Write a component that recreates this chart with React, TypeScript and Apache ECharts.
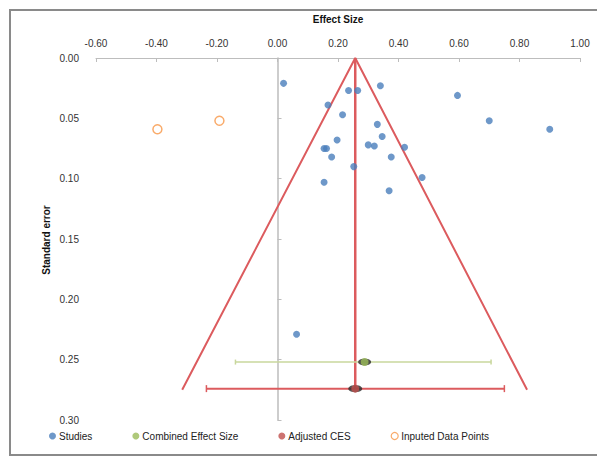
import React, { useEffect, useRef } from "react";
import * as echarts from "echarts";

// Studies: [effect size, standard error]
const studies: [number, number][] = [
  [0.02, 0.021], [0.235, 0.027], [0.265, 0.027], [0.34, 0.023], [0.595, 0.031],
  [0.167, 0.039], [0.215, 0.047], [0.33, 0.055], [0.346, 0.065], [0.197, 0.068],
  [0.30, 0.072], [0.32, 0.073], [0.154, 0.075], [0.162, 0.075], [0.42, 0.074],
  [0.179, 0.082], [0.376, 0.082], [0.252, 0.09], [0.478, 0.099], [0.154, 0.103],
  [0.369, 0.11], [0.70, 0.052], [0.90, 0.059], [0.063, 0.229],
];
const combined: [number, number] = [0.288, 0.252];
const combinedCI: [number, number] = [-0.139, 0.706];
const adjusted: [number, number] = [0.257, 0.274];
const adjustedCI: [number, number] = [-0.235, 0.75];
const imputed: [number, number][] = [[-0.397, 0.059], [-0.192, 0.052]];
const funnel: [number, number][] = [[-0.315, 0.275], [0.257, 0], [0.825, 0.275]];
const xTicks = { min: -0.6, max: 1.0, interval: 0.2 };
const yTicks = { min: 0, max: 0.3, interval: 0.05 };

const FONT = "Liberation Sans";
const RED = "#dc5b5e";

export default function App() {
  const ref = useRef<HTMLDivElement>(null);
  useEffect(() => {
    document.body.style.margin = "0";
    const chart = echarts.init(ref.current!, null, { renderer: "svg" });
    chart.setOption({
      animation: false,
      backgroundColor: "#fff",
      textStyle: { fontFamily: FONT },
      graphic: [
        {
          type: "rect",
          shape: { x: 10, y: 10, width: 620, height: 445 },
          style: { fill: "none", stroke: "#8a8a8a", lineWidth: 2 },
          silent: true,
        },
        {
          type: "text",
          rotation: Math.PI / 2,
          style: { text: "Standard error", fontSize: 10, fontWeight: "bold", fill: "#111", fontFamily: FONT, align: "center", verticalAlign: "middle" },
          x: 46, y: 240,
        },
      ],
      grid: { left: 96, right: 17, top: 58, bottom: 39 },
      legend: {
        bottom: 13,
        left: 44,
        itemGap: 40,
        itemWidth: 7,
        itemHeight: 7,
        textStyle: { fontSize: 10, color: "#222", fontFamily: FONT, padding: [0, 0, 0, -2] },
        data: [
          { name: "Studies", icon: "circle" },
          { name: "Combined Effect Size", icon: "circle" },
          { name: "Adjusted CES", icon: "circle" },
          { name: "Inputed Data Points", icon: "circle", itemStyle: { color: "#fff", borderColor: "#f79646", borderWidth: 1.2 } },
        ],
      },
      xAxis: {
        type: "value",
        position: "top",
        min: xTicks.min,
        max: xTicks.max,
        interval: xTicks.interval,
        name: "Effect Size",
        nameLocation: "middle",
        nameGap: 34,
        nameTextStyle: { fontSize: 10, fontWeight: "bold", color: "#111" },
        axisLine: { lineStyle: { color: "#bdbdbd" } },
        axisTick: { inside: true, length: 4, lineStyle: { color: "#bdbdbd" } },
        axisLabel: { fontSize: 10, color: "#333", margin: 10, formatter: (v: number) => v.toFixed(2) },
        splitLine: { show: false },
      },
      yAxis: [
        {
          type: "value",
          inverse: true,
          min: yTicks.min,
          max: yTicks.max,
          interval: yTicks.interval,
          axisLine: { show: false },
          axisTick: { show: false },
          axisLabel: { fontSize: 10, color: "#333", margin: 17, formatter: (v: number) => v.toFixed(2) },
          splitLine: { show: false },
        },
        {
          type: "value",
          inverse: true,
          min: yTicks.min,
          max: yTicks.max,
          interval: yTicks.interval,
          position: "left",
          axisLine: { show: true, onZero: true, onZeroAxisIndex: 0, lineStyle: { color: "#bdbdbd", width: 1.5 } },
          axisTick: { show: true, inside: true, length: 4, lineStyle: { color: "#bdbdbd" } },
          axisLabel: { show: false },
          splitLine: { show: false },
        },
      ],
      series: [
        {
          type: "line",
          name: "funnel",
          data: funnel,
          symbol: "none",
          lineStyle: { color: RED, width: 2 },
          silent: true,
          z: 3,
        },
        {
          type: "line",
          name: "vertical",
          data: [[funnel[1][0], 0], [adjusted[0], adjusted[1]]],
          symbol: "none",
          lineStyle: { color: RED, width: 2.5 },
          silent: true,
          z: 3,
        },
        {
          type: "line",
          name: "combinedCI",
          data: [[combinedCI[0], combined[1]], [combinedCI[1], combined[1]]],
          symbol: "rect",
          symbolSize: [1.5, 5],
          itemStyle: { color: "#c8d79c" },
          lineStyle: { color: "#c8d79c", width: 1.5 },
          silent: true,
          z: 3,
        },
        {
          type: "line",
          name: "adjustedCI",
          data: [[adjustedCI[0], adjusted[1]], [adjustedCI[1], adjusted[1]]],
          symbol: "rect",
          symbolSize: [1.5, 7],
          itemStyle: { color: RED },
          lineStyle: { color: RED, width: 2 },
          silent: true,
          z: 3,
        },
        {
          type: "scatter",
          name: "Studies",
          data: studies,
          symbol: "circle",
          symbolSize: 7,
          itemStyle: { color: "#4a7ebb" },
          z: 5,
        },
        {
          type: "scatter",
          name: "combinedShadow",
          data: [combined],
          symbol: "circle",
          symbolSize: [13, 7],
          itemStyle: { color: "#2a2a2a" },
          silent: true,
          z: 4,
        },
        {
          type: "scatter",
          name: "Combined Effect Size",
          data: [combined],
          symbol: "circle",
          symbolSize: 8,
          itemStyle: { color: "#9bbb59" },
          z: 5,
        },
        {
          type: "scatter",
          name: "adjustedShadow",
          data: [adjusted],
          symbol: "circle",
          symbolSize: [14, 7],
          itemStyle: { color: "#2a2a2a" },
          silent: true,
          z: 4,
        },
        {
          type: "scatter",
          name: "Adjusted CES",
          data: [adjusted],
          symbol: "circle",
          symbolSize: 8,
          itemStyle: { color: "#c0504d" },
          z: 5,
        },
        {
          type: "scatter",
          name: "Inputed Data Points",
          data: imputed,
          symbol: "circle",
          symbolSize: 9,
          itemStyle: { color: "#fff", borderColor: "#f79646", borderWidth: 1.5 },
          z: 5,
        },
      ],
    });
    return () => chart.dispose();
  }, []);
  return <div ref={ref} style={{ width: 597, height: 459 }} />;
}
